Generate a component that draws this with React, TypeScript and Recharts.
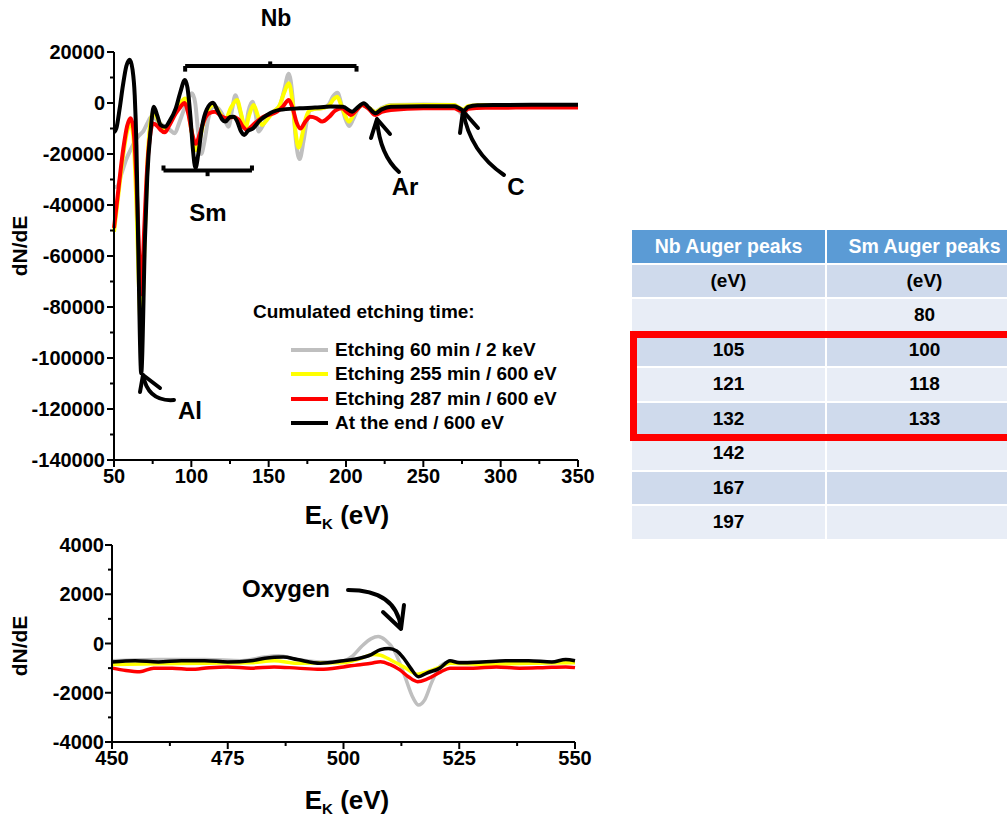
import React from 'react';
import { LineChart, Line, XAxis, YAxis, ReferenceLine, Legend } from 'recharts';

const FONT = '"Liberation Sans", Arial, sans-serif';

// ---------- Top chart (Nb / Sm region) ----------
const seriesNames = ['Etching 60 min / 2 keV', 'Etching 255 min / 600 eV', 'Etching 287 min / 600 eV', 'At the end / 600 eV'];
const seriesColors = ['#bfbfbf', '#ffff00', '#ff0000', '#000000'];

const topGrayE = [50, 52, 54.7, 58, 61.2, 64, 66.6, 69, 71.5, 74.2, 76.5, 78.5, 82, 86, 89.3, 92, 95, 98, 100.4, 102.5, 104.5, 106.3, 108.5, 111, 114, 117, 120.5, 124, 126.5, 128.5, 131, 134.9, 137, 139.5, 141.5, 143.5, 146.5, 150, 154, 157.5, 160, 163, 165.5, 167.5, 170, 172.5, 175, 177, 181, 185, 189, 191.5, 194.5, 197, 199.5, 202, 204.5, 207.5, 210.5, 215, 219, 223, 229, 250, 270, 273, 276, 279, 290, 320, 350];
const topGrayV = [-33000, -32800, -28000, -22000, -17800, -14500, -12500, -11000, -8000, -5400, -6000, -7300, -9000, -10500, -11900, -8000, -3000, 1500, 3800, 0, -12000, -20000, -15000, -6000, -1500, -2000, -5000, -9300, -2000, 3000, -2000, -9800, -3000, 500, -4000, -11200, -8500, -4500, -3000, -500, 5000, 11500, 2000, -14000, -22000, -15000, -6000, -2700, -2200, -2000, -500, 2500, 4000, -500, -6000, -9000, -6500, -2500, -800, -2000, -3500, -2000, -800, -600, -800, -3000, -4700, -2000, -900, -900, -1000];

const topYellowE = [50, 53, 56, 58.5, 60.8, 62.5, 64.5, 66, 67.7, 69.5, 71.5, 73.5, 75.5, 78, 80, 83, 86, 90, 93, 96, 98.5, 101, 103, 105.5, 108.5, 111.5, 114.3, 118, 121.9, 125.5, 129.5, 132.3, 134.9, 137.5, 140.3, 143, 145.7, 149, 153.2, 157, 160, 163, 165.5, 167.5, 169.4, 171.5, 174, 177, 181, 185, 189, 192, 194.3, 197, 199.5, 201.8, 204.5, 207.5, 210.5, 215, 219, 223, 229, 250, 270, 273, 276, 279, 290, 320, 350];
const topYellowV = [-50500, -35000, -20000, -11000, -8000, -13000, -40000, -70000, -92000, -60000, -25000, -8000, -3500, -6000, -8500, -10000, -7500, -3000, 0, 1800, -5000, -14000, -18500, -14000, -6000, -2000, -800, -3500, -6700, -2000, 1200, -4500, -9900, -4500, -800, -5000, -8600, -6500, -3400, -1000, 4000, 7700, 0, -12000, -17500, -13000, -6000, -2700, -2200, -2000, -1000, 1500, 2500, -1000, -5000, -7300, -5000, -2000, -800, -2000, -3500, -2200, -1000, -800, -800, -1800, -2500, -1200, -800, -800, -800];

const topRedE = [50, 53, 56, 58.5, 60.8, 62.5, 64.5, 66, 67.7, 69.5, 71.5, 73.5, 75.3, 78, 80, 82.8, 86, 90, 93, 95.5, 98, 100.5, 103, 105.5, 108.5, 111.5, 115.4, 119, 123, 127, 130.5, 133, 136, 140, 146.7, 155.4, 159, 163, 165.5, 168, 170.5, 173.5, 177, 181, 184.6, 189, 193, 197.5, 200.5, 203, 206.5, 210.5, 215, 219, 223, 229, 250, 270, 273, 276, 279, 290, 320, 350];
const topRedV = [-49000, -33000, -18000, -9000, -6000, -10000, -30000, -55000, -75000, -50000, -25000, -12000, -8000, -9000, -10500, -11500, -8500, -4000, -1500, 0, -4000, -12000, -16000, -12000, -6500, -4000, -3400, -5000, -6000, -5500, -6500, -9000, -10600, -8500, -5400, -3400, -1500, 1200, -2000, -7500, -10000, -7500, -5400, -6000, -7300, -5500, -3000, -2100, -3500, -4700, -3000, -800, -2500, -4700, -3500, -2700, -2100, -2100, -2800, -3400, -2300, -1900, -1800, -1800];

const topBlackE = [50, 51.5, 53.7, 55.8, 58, 60.2, 62, 63.4, 64.5, 65.6, 67.6, 70, 71.5, 73.8, 75.7, 78, 80, 83, 86, 90, 93, 95.8, 97.5, 99.5, 101, 102.7, 104.5, 107, 110, 114, 117, 120, 122, 125, 127.3, 129.5, 132, 134.2, 136.5, 140, 144, 149, 157, 170, 180, 190, 198, 204, 207, 211.5, 215, 219, 223, 229, 250, 270, 273, 276, 279, 285, 300, 320, 350];
const topBlackV = [-11500, -10000, -2000, 7000, 14500, 17000, 13000, 3000, -16500, -53700, -106000, -53700, -29000, -10000, -1500, -5000, -8500, -9300, -7000, -2000, 4500, 9000, 6000, -6000, -18000, -25500, -20000, -9000, -2500, 100, -3000, -6500, -7300, -5500, -5400, -7000, -11000, -12500, -11000, -9900, -7000, -4700, -2700, -2100, -1800, -1400, -1500, -3400, -2000, -100, -2000, -4000, -2500, -1450, -1300, -1300, -2000, -3000, -1500, -900, -800, -700, -700];

// ---------- Bottom chart (Oxygen region) ----------
const botGrayE = [450, 460, 470, 478, 483, 486, 490, 495, 500, 502, 504, 506, 507.5, 509, 511, 513, 515, 516.2, 517.5, 519, 521, 523, 530, 540, 550];
const botGrayV = [-700, -650, -650, -700, -550, -500, -650, -750, -700, -500, -100, 200, 280, 150, -300, -1200, -2200, -2500, -2300, -1600, -900, -750, -750, -750, -750];

const botYellowE = [450, 460, 470, 480, 485, 490, 500, 503, 506.5, 508, 509.5, 511, 513, 516, 518, 521, 523, 530, 540, 550];
const botYellowV = [-850, -820, -800, -780, -700, -800, -780, -650, -450, -480, -600, -750, -950, -1250, -1150, -950, -800, -850, -800, -780];

const botRedE = [450, 453, 456, 459, 463, 467, 471, 475, 480, 485, 490, 495, 500, 503, 506, 508, 510, 512, 514, 516, 518, 521, 523, 528, 533, 538, 543, 548, 550];
const botRedV = [-1000, -1100, -1150, -1000, -1000, -1050, -980, -950, -1000, -950, -1000, -1050, -950, -870, -800, -740, -850, -1050, -1350, -1550, -1450, -1150, -1000, -1000, -950, -1000, -980, -950, -980];

const botBlackE = [450, 455, 460, 465, 470, 475, 480, 483, 487, 490, 495, 500, 503, 506, 508, 509.7, 511.5, 513, 514.5, 516.2, 518, 520.8, 523, 525, 530, 535, 540, 545, 548, 550];
const botBlackV = [-750, -700, -750, -700, -700, -750, -700, -600, -550, -650, -800, -700, -620, -450, -250, -200, -300, -600, -1000, -1350, -1200, -1000, -700, -780, -750, -700, -700, -750, -650, -700];

// ---------- Axes ----------
const topXTicks = [50, 75, 100, 125, 150, 175, 200, 225, 250, 275, 300, 325, 350];
const topYTicks = [20000, 10000, 0, -10000, -20000, -30000, -40000, -50000, -60000, -70000, -80000, -90000, -100000, -110000, -120000, -130000, -140000];
const botXTicks = [450, 462.5, 475, 487.5, 500, 512.5, 525, 537.5, 550];
const botYTicks = [4000, 3000, 2000, 1000, 0, -1000, -2000, -3000, -4000];

// ---------- Table ----------
const tableHeader = ['Nb Auger peaks', 'Sm Auger peaks'];
const nbPeaks = ['(eV)', '', '105', '121', '132', '142', '167', '197'];
const smPeaks = ['(eV)', '80', '100', '118', '133', '', '', ''];

const zip = (es: number[], vs: number[]) => es.map((e, i) => ({ e, v: vs[i] }));

const topData = [zip(topGrayE, topGrayV), zip(topYellowE, topYellowV), zip(topRedE, topRedV), zip(topBlackE, topBlackV)];
const botData = [zip(botGrayE, botGrayV), zip(botYellowE, botYellowV), zip(botRedE, botRedV), zip(botBlackE, botBlackV)];

const makeXTick = (majorStep: number) => (props: any) => {
  const { x, y, payload } = props;
  const v = payload.value;
  const major = Math.abs(v / majorStep - Math.round(v / majorStep)) < 1e-6;
  return (
    <g>
      <line x1={x} y1={y} x2={x} y2={y + (major ? 7 : 4)} stroke="#000" strokeWidth={2} />
      {major && (
        <text x={x} y={y + 23} textAnchor="middle" fontFamily={FONT} fontWeight="bold" fontSize={20} fill="#000">
          {v}
        </text>
      )}
    </g>
  );
};

const makeYTick = (majorStep: number, gap: number) => (props: any) => {
  const { x, y, payload } = props;
  const v = payload.value;
  const major = Math.abs(v / majorStep - Math.round(v / majorStep)) < 1e-6;
  return (
    <g>
      <line x1={x - (major ? 7 : 4)} y1={y} x2={x} y2={y} stroke="#000" strokeWidth={2} />
      {major && (
        <text x={x - gap} y={y} dy="0.36em" textAnchor="end" fontFamily={FONT} fontWeight="bold" fontSize={20} fill="#000">
          {v}
        </text>
      )}
    </g>
  );
};

const renderLegend = (props: any) => {
  const payload = [...(props.payload || [])].sort(
    (a: any, b: any) => seriesNames.indexOf(a.value) - seriesNames.indexOf(b.value)
  );
  return (
    <div style={{ fontFamily: FONT, fontWeight: 'bold', fontSize: 19, color: '#000', lineHeight: '20px' }}>
      <div style={{ marginBottom: 16, whiteSpace: 'nowrap' }}>Cumulated etching time:</div>
      {payload.map((entry: any, i: number) => (
        <div key={i} style={{ display: 'flex', alignItems: 'center', height: 24.3, marginLeft: 38, whiteSpace: 'nowrap' }}>
          <span style={{ display: 'inline-block', width: 37, height: 4, background: entry.color, marginRight: 7 }} />
          <span>{entry.value}</span>
        </div>
      ))}
    </div>
  );
};

const axisLine = { stroke: '#000', strokeWidth: 2 };

const Arrow = ({ d, head }: { d: string; head: string }) => (
  <g fill="none" stroke="#000" strokeWidth={4} strokeLinecap="round" strokeLinejoin="round">
    <path d={d} />
    <polyline points={head} />
  </g>
);

export default function App() {
  const txt = { fontFamily: FONT, fontWeight: 'bold' as const, fill: '#000' };
  return (
    <div style={{ position: 'absolute', left: 0, top: 0, width: 1007, height: 816, overflow: 'hidden', background: '#fff', fontFamily: FONT }}>
      {/* Top chart */}
      <div style={{ position: 'absolute', left: 0, top: 0 }}>
        <LineChart width={600} height={490} margin={{ top: 52, right: 22, bottom: 0, left: 0 }}>
          <XAxis dataKey="e" type="number" domain={[50, 350]} ticks={topXTicks} interval={0} height={30}
            tickSize={0} tickMargin={0} tickLine={false} axisLine={axisLine} tick={makeXTick(50)} />
          <XAxis xAxisId="top" orientation="top" dataKey="e" type="number" domain={[50, 350]} height={0} tick={false} tickLine={false} axisLine={axisLine} />
          <YAxis type="number" domain={[-140000, 20000]} ticks={topYTicks} interval={0} width={114}
            tickSize={0} tickMargin={0} tickLine={false} axisLine={axisLine} tick={makeYTick(20000, 9)} />
          <YAxis yAxisId="right" orientation="right" type="number" domain={[-140000, 20000]} width={0} tick={false} tickLine={false} axisLine={axisLine} />
          {topData.map((d, i) => (
            <Line key={i} data={d} dataKey="v" name={seriesNames[i]} type="monotone" stroke={seriesColors[i]}
              strokeWidth={4} dot={false} activeDot={false} isAnimationActive={false} />
          ))}
          {/* Nb bracket */}
          <ReferenceLine segment={[{ x: 96, y: 14500 }, { x: 206.8, y: 14500 }]} stroke="#000" strokeWidth={4} />
          <ReferenceLine segment={[{ x: 96, y: 14500 }, { x: 96, y: 12300 }]} stroke="#000" strokeWidth={4} />
          <ReferenceLine segment={[{ x: 206.8, y: 14500 }, { x: 206.8, y: 12300 }]} stroke="#000" strokeWidth={4} />
          <ReferenceLine segment={[{ x: 151, y: 14500 }, { x: 151, y: 16300 }]} stroke="#000" strokeWidth={4} />
          {/* Sm bracket */}
          <ReferenceLine segment={[{ x: 82, y: -26500 }, { x: 139.2, y: -26500 }]} stroke="#000" strokeWidth={4} />
          <ReferenceLine segment={[{ x: 82, y: -26500 }, { x: 82, y: -24500 }]} stroke="#000" strokeWidth={4} />
          <ReferenceLine segment={[{ x: 139.2, y: -26500 }, { x: 139.2, y: -24500 }]} stroke="#000" strokeWidth={4} />
          <ReferenceLine segment={[{ x: 110.5, y: -26500 }, { x: 110.5, y: -28700 }]} stroke="#000" strokeWidth={4} />
          <Legend layout="vertical" align="center" verticalAlign="middle" content={renderLegend}
            wrapperStyle={{ position: 'absolute', left: 253, top: 302, width: 340, height: 140 }} />
        </LineChart>
      </div>

      {/* Bottom chart */}
      <div style={{ position: 'absolute', left: 0, top: 520 }}>
        <LineChart width={600} height={260} margin={{ top: 25, right: 25, bottom: 0, left: 0 }}>
          <XAxis dataKey="e" type="number" domain={[450, 550]} ticks={botXTicks} interval={0} height={38}
            tickSize={0} tickMargin={0} tickLine={false} axisLine={axisLine} tick={makeXTick(25)} />
          <XAxis xAxisId="top" orientation="top" dataKey="e" type="number" domain={[450, 550]} height={0} tick={false} tickLine={false} axisLine={axisLine} />
          <YAxis type="number" domain={[-4000, 4000]} ticks={botYTicks} interval={0} width={112}
            tickSize={0} tickMargin={0} tickLine={false} axisLine={axisLine} tick={makeYTick(2000, 8)} />
          <YAxis yAxisId="right" orientation="right" type="number" domain={[-4000, 4000]} width={0} tick={false} tickLine={false} axisLine={axisLine} />
          {botData.map((d, i) => (
            <Line key={i} data={d} dataKey="v" name={seriesNames[i]} type="monotone" stroke={seriesColors[i]}
              strokeWidth={3.5} dot={false} activeDot={false} isAnimationActive={false} />
          ))}
        </LineChart>
      </div>

      {/* Annotations overlay */}
      <svg width={1007} height={816} style={{ position: 'absolute', left: 0, top: 0, pointerEvents: 'none' }}>
        <text x={276} y={26} textAnchor="middle" fontSize={23} {...txt}>Nb</text>
        <text x={208} y={221} textAnchor="middle" fontSize={24} {...txt}>Sm</text>
        <text x={405} y={195} textAnchor="middle" fontSize={24} {...txt}>Ar</text>
        <text x={516} y={195} textAnchor="middle" fontSize={24} {...txt}>C</text>
        <text x={190} y={419} textAnchor="middle" fontSize={24} {...txt}>Al</text>
        <text x={286} y={597} textAnchor="middle" fontSize={24} {...txt}>Oxygen</text>

        <Arrow d="M 377 120 Q 380 155 399 172" head="371,138 377,119 390,134" />
        <Arrow d="M 463 111 Q 470 152 504 175" head="460,133 463,111 478,128" />
        <Arrow d="M 143 375 Q 148 402 174 400" head="140,392 143,375 160,388" />
        <Arrow d="M 348 590 Q 396 590 401 628" head="383,612 401,629 404,605" />

        <text transform="translate(27,246) rotate(-90)" textAnchor="middle" fontSize={21} {...txt}>dN/dE</text>
        <text transform="translate(27,646) rotate(-90)" textAnchor="middle" fontSize={21} {...txt}>dN/dE</text>

        <text x={347} y={524} textAnchor="middle" fontSize={26} {...txt}>
          E<tspan fontSize={15} dy={5}>K</tspan><tspan dy={-5}> (eV)</tspan>
        </text>
        <text x={347} y={809} textAnchor="middle" fontSize={26} {...txt}>
          E<tspan fontSize={15} dy={5}>K</tspan><tspan dy={-5}> (eV)</tspan>
        </text>
      </svg>

      {/* Table */}
      <div style={{ position: 'absolute', left: 632, top: 230, width: 390 }}>
        {[tableHeader, ...nbPeaks.map((nb, i) => [nb, smPeaks[i]])].map((row, r) => (
          <div key={r} style={{ display: 'flex', height: 32.5, marginBottom: 2 }}>
            {row.map((cell, c) => (
              <div key={c} style={{
                width: c === 0 ? 193 : 195, marginRight: c === 0 ? 2 : 0, height: '100%',
                display: 'flex', alignItems: 'center', justifyContent: 'center',
                background: r === 0 ? '#5b9bd5' : (r % 2 === 1 ? '#cfdaec' : '#e8edf6'),
                color: r === 0 ? '#fff' : '#000', fontWeight: 'bold', fontSize: r === 0 ? 19.5 : 19,
                fontFamily: FONT,
              }}>{cell}</div>
            ))}
          </div>
        ))}
      </div>
      <div style={{ position: 'absolute', left: 630, top: 331, width: 400, height: 110, border: '7px solid #ff0000', boxSizing: 'border-box' }} />
    </div>
  );
}
